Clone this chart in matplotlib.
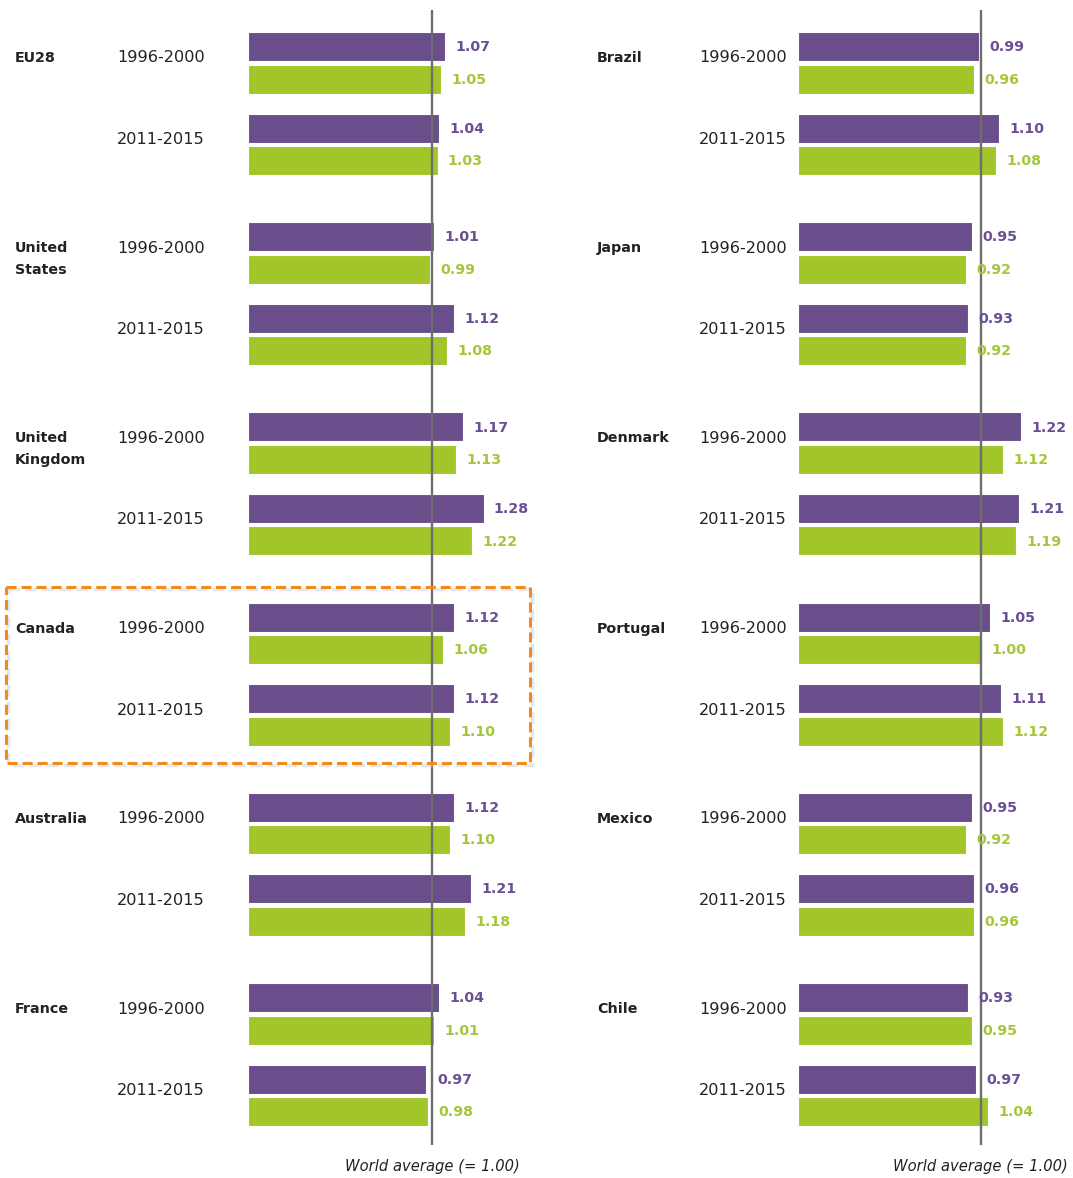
import matplotlib.pyplot as plt
from matplotlib.patches import Rectangle

W, H = 1073, 1178

# countries and periods
left_countries = ["EU28", "United\nStates", "United\nKingdom", "Canada", "Australia", "France"]
right_countries = ["Brazil", "Japan", "Denmark", "Portugal", "Mexico", "Chile"]
periods = ["1996-2000", "2011-2015"]

# values per country: [1996-2000, 2011-2015]
left_purple = [[1.07, 1.04], [1.01, 1.12], [1.17, 1.28], [1.12, 1.12], [1.12, 1.21], [1.04, 0.97]]
left_green = [[1.05, 1.03], [0.99, 1.08], [1.13, 1.22], [1.06, 1.10], [1.10, 1.18], [1.01, 0.98]]
right_purple = [[0.99, 1.10], [0.95, 0.93], [1.22, 1.21], [1.05, 1.11], [0.95, 0.96], [0.93, 0.97]]
right_green = [[0.96, 1.08], [0.92, 0.92], [1.12, 1.19], [1.00, 1.12], [0.92, 0.96], [0.95, 1.04]]

world_avg = 1.00
avg_label = "World average (= 1.00)"

PURPLE = "#694e8b"
GREEN = "#a2c62a"
PURPLE_TXT = "#6b4f94"
GREEN_TXT = "#a4c73a"
LINE = "#6e6e6e"
TXT = "#222222"


def bar_y(i, j, k):
    # row position (pixels from the top) for country i, period j, series k
    return 46.5 + i * 190.2 + j * 81.5 + k * 32.5


def draw_panel(fig, x0, x1, px_unit, purple, green):
    ax = fig.add_axes([x0 / W, 0, (x1 - x0) / W, 1])
    ax.set_xlim(0, (x1 - x0) / px_unit)
    ax.set_ylim(H, 0)
    ax.axis("off")
    ax.patch.set_alpha(0)
    for i in range(len(purple)):
        for j in range(len(periods)):
            for k, (vals, col, tcol) in enumerate([(purple, PURPLE, PURPLE_TXT), (green, GREEN, GREEN_TXT)]):
                v = vals[i][j]
                y = bar_y(i, j, k)
                ax.barh(y, v, height=29, color=col, edgecolor="white", linewidth=0.8, zorder=2)
                ax.annotate(f"{v:.2f}", (v, y), xytext=(7.5, -0.5), textcoords="offset points",
                            ha="left", va="center", color=tcol, fontsize=10.2, fontweight="bold", zorder=4)
    ax.vlines(world_avg, 10, 1145, color=LINE, lw=1.7, zorder=3)
    return ax


def draw_labels(ax, countries, x_country, x_period):
    for i, name in enumerate(countries):
        for n, line in enumerate(name.split("\n")):
            ax.text(x_country, bar_y(i, 0, 0) + 11.5 + n * 22, line, ha="left", va="center",
                    fontsize=10.3, fontweight="bold", color=TXT)
        for j, p in enumerate(periods):
            ax.text(x_period, bar_y(i, j, 0) + 11.5, p, ha="right", va="center",
                    fontsize=11.6, color=TXT)


fig = plt.figure(figsize=(W / 100, H / 100), dpi=100)
fig.patch.set_facecolor("white")

draw_panel(fig, 248, 545, 184, left_purple, left_green)
draw_panel(fig, 798, 1073, 183, right_purple, right_green)

ov = fig.add_axes([0, 0, 1, 1])
ov.set_xlim(0, W)
ov.set_ylim(H, 0)
ov.axis("off")
ov.patch.set_alpha(0)

draw_labels(ov, left_countries, 15, 205)
draw_labels(ov, right_countries, 597, 787)

ov.text(520, 1166, avg_label, ha="right", va="center", fontsize=10.6, style="italic", color=TXT)
ov.text(1068, 1166, avg_label, ha="right", va="center", fontsize=10.6, style="italic", color=TXT)

# highlight box around Canada
ov.add_patch(Rectangle((8, 589), 524, 176, fill=False, edgecolor="#d0d0d0", lw=2.5,
                       linestyle=(0, (3.3, 1.6)), alpha=0.5, zorder=5))
ov.add_patch(Rectangle((6, 587), 524, 176, fill=False, edgecolor="#f28a1e", lw=2.2,
                       linestyle=(0, (3.3, 1.6)), zorder=6))

fig.savefig("out.png", dpi=100)
